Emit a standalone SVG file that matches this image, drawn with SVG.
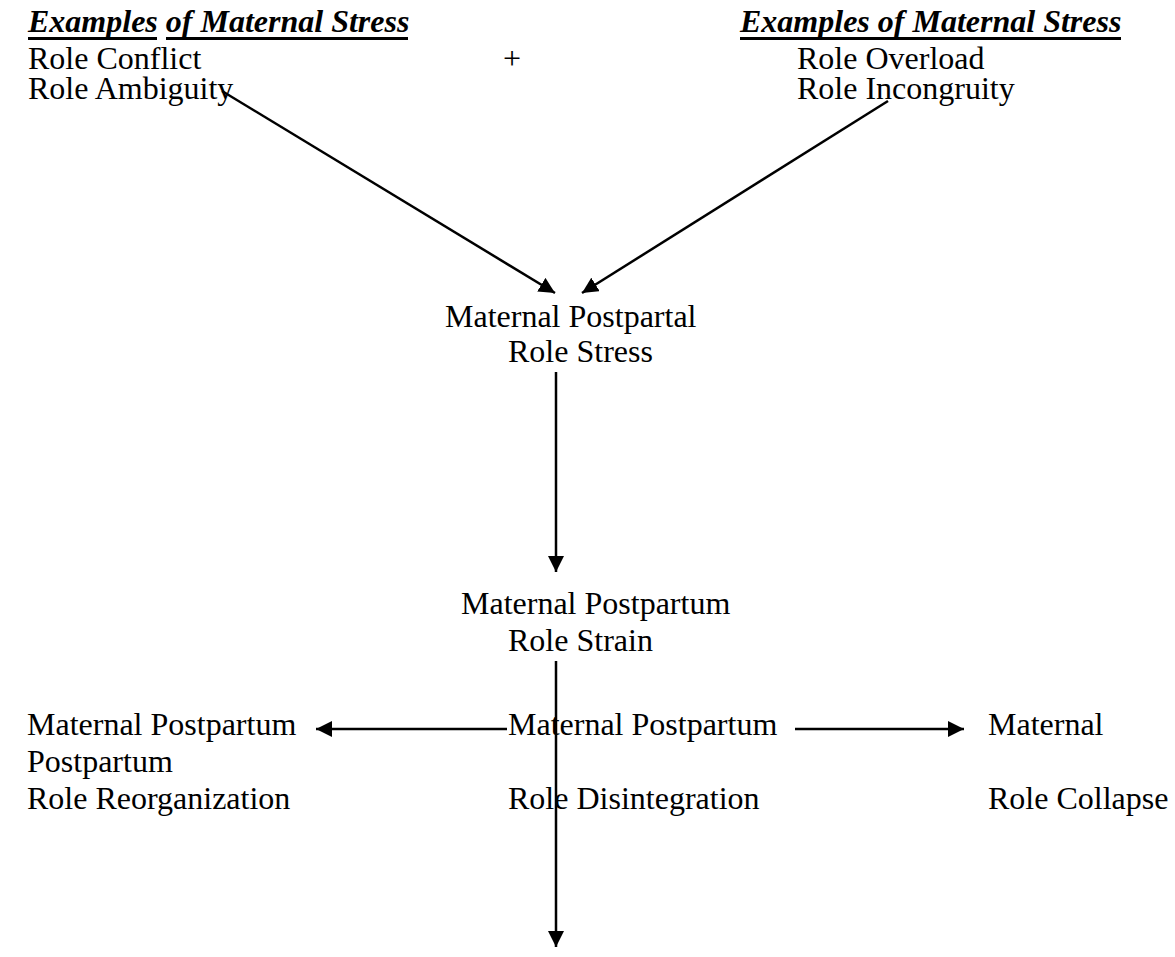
<svg xmlns="http://www.w3.org/2000/svg" width="1175" height="957" viewBox="0 0 1175 957">
<style>
text{font-family:"Liberation Serif","Times New Roman",serif;font-size:32px;fill:#000}
.h{font-weight:bold;font-style:italic}
.c{stroke:#000;stroke-width:2.5;fill:none}
.u{stroke:#000;stroke-width:3}
</style>
<defs>
<marker id="ah" viewBox="0 0 16 16" refX="16" refY="8" markerWidth="16" markerHeight="16" markerUnits="userSpaceOnUse" orient="auto">
<path d="M0,0 L16,8 L0,16 z" fill="#000"/>
</marker>
</defs>
<rect width="1175" height="957" fill="#fff"/>
<g id="examples-left">
<text class="h" x="28" y="32">Examples of Maternal Stress</text>
<line class="u" x1="28" y1="38.5" x2="157" y2="38.5"/>
<line class="u" x1="166" y1="38.5" x2="408" y2="38.5"/>
<text x="28" y="69">Role Conflict</text>
<text x="28" y="99">Role Ambiguity</text>
</g>
<g id="plus"><text x="503" y="69">+</text></g>
<g id="examples-right">
<text class="h" x="740" y="32">Examples of Maternal Stress</text>
<line class="u" x1="740" y1="38.5" x2="1121" y2="38.5"/>
<text x="797" y="69">Role Overload</text>
<text x="797" y="99">Role Incongruity</text>
</g>
<g id="role-stress">
<text x="445" y="327">Maternal Postpartal</text>
<text x="508" y="362">Role Stress</text>
</g>
<g id="role-strain">
<text x="461" y="614">Maternal Postpartum</text>
<text x="508" y="651">Role Strain</text>
</g>
<g id="reorganization">
<text x="27" y="735">Maternal Postpartum</text>
<text x="27" y="772">Postpartum</text>
<text x="27" y="809">Role Reorganization</text>
</g>
<g id="disintegration">
<text x="508" y="735">Maternal Postpartum</text>
<text x="508" y="809">Role Disintegration</text>
</g>
<g id="collapse">
<text x="988" y="735">Maternal</text>
<text x="988" y="809">Role Collapse</text>
</g>
<g id="connectors">
<line class="c" x1="222" y1="91" x2="555" y2="293" marker-end="url(#ah)"/>
<line class="c" x1="888" y1="101" x2="582" y2="293" marker-end="url(#ah)"/>
<line class="c" x1="556" y1="372" x2="556" y2="572" marker-end="url(#ah)"/>
<line class="c" x1="507" y1="729" x2="316" y2="729" marker-end="url(#ah)"/>
<line class="c" x1="795" y1="729" x2="964" y2="729" marker-end="url(#ah)"/>
<line class="c" x1="556" y1="661" x2="556" y2="947" marker-end="url(#ah)"/>
</g>
</svg>
